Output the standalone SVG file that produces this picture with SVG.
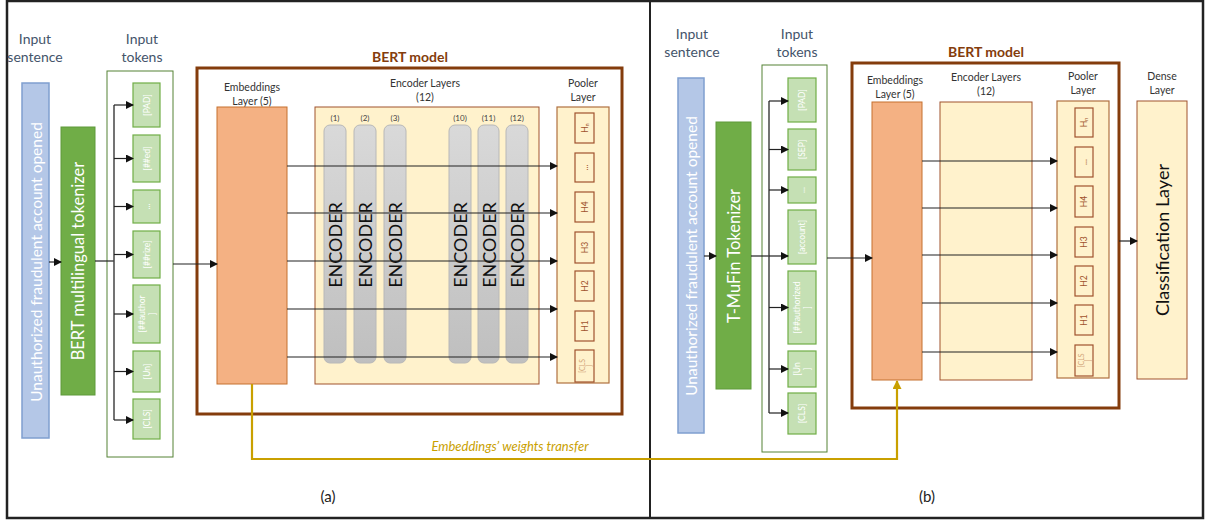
<svg xmlns="http://www.w3.org/2000/svg" width="1209" height="520" viewBox="0 0 1209 520">
<style>
text{font-family:Lato,"Open Sans","Liberation Sans",sans-serif}
.hdr{font-size:14px;fill:#44546A;text-anchor:middle}
.lbl{font-size:10.5px;fill:#333;text-anchor:middle}
.bert{font-size:14px;font-weight:bold;fill:#843C0C;text-anchor:middle}
.sent{fill:#B4C7E7;stroke:#7F9FCF;stroke-width:1.5}
.sentt{font-size:15.5px;fill:#fff;text-anchor:middle;dominant-baseline:central}
.tok{fill:#70AD47;stroke:#5E9A3A;stroke-width:1}
.tokt{font-size:16.5px;fill:#fff;text-anchor:middle;dominant-baseline:central}
.tbox{fill:#fff;stroke:#548235;stroke-width:1}
.tk{fill:#C5E0B4;stroke:#70AD47;stroke-width:1.2}
.tkt{font-size:8.5px;fill:#fff;text-anchor:middle;dominant-baseline:central}
.bbox{fill:none;stroke:#843C0C;stroke-width:3}
.emb{fill:#F4B183;stroke:#C5702F;stroke-width:1}
.enc{fill:#FFF2CC;stroke:#A0522D;stroke-width:1}
.bar{fill:url(#g);stroke:#B8B8B8;stroke-width:1}
.bart{font-size:18px;fill:#111;text-anchor:middle;dominant-baseline:central}
.num{font-size:8px;fill:#444;text-anchor:middle}
.pool{fill:#FFF2CC;stroke:#B0703F;stroke-width:1.2}
.h{fill:#FFF2CC;stroke:#A0522D;stroke-width:1.2}
.ht{font-size:8.5px;fill:#A0522D;text-anchor:middle;dominant-baseline:central}
.htl{font-size:7px;fill:#D2A679;text-anchor:middle;dominant-baseline:central}
.ln{stroke:#222;stroke-width:1.2;fill:none}
.lg{stroke:#444;stroke-width:1.5;fill:none}
.gold{stroke:#C9A000;stroke-width:2.2;fill:none}
.cap{font-size:15px;fill:#222;text-anchor:middle}
</style>
<defs>
<linearGradient id="g" x1="0" y1="0" x2="0" y2="1">
<stop offset="0" stop-color="#D9D9D9"/>
<stop offset="1" stop-color="#BFBFBF"/>
</linearGradient>
<marker id="ar" markerWidth="8" markerHeight="8" refX="7" refY="4" orient="auto" markerUnits="userSpaceOnUse">
<path d="M0,0 L8,4 L0,8 Z" fill="#111"/>
</marker>
<marker id="arg" markerWidth="9" markerHeight="9" refX="8" refY="4.5" orient="auto" markerUnits="userSpaceOnUse">
<path d="M0,0 L9,4.5 L0,9 Z" fill="#C9A000"/>
</marker>
</defs>
<rect x="0" y="0" width="1209" height="520" fill="#fff"/>
<g id="frame">
<rect x="7" y="1" width="1196" height="517" fill="none" stroke="#222" stroke-width="2.5"/>
<line x1="650" y1="1" x2="650" y2="518" stroke="#222" stroke-width="2"/>
</g>

<!-- LEFT PANEL -->
<g id="a-sentence">
<text class="hdr" x="35" y="44">Input</text>
<text class="hdr" x="35" y="62">sentence</text>
<rect class="sent" x="22" y="83" width="27" height="355"/>
<text class="sentt" transform="translate(35.5,262) rotate(-90)">Unauthorized fraudulent account opened</text>
</g>
<g id="a-tokenizer">
<rect class="tok" x="61" y="127" width="34" height="268"/>
<text class="tokt" transform="translate(78,261) rotate(-90)">BERT multilingual tokenizer</text>
</g>
<g id="a-tokens">
<text class="hdr" x="142" y="44">Input</text>
<text class="hdr" x="142" y="62">tokens</text>
<rect class="tbox" x="107" y="71" width="66" height="386"/>
<rect class="tk" x="133" y="83" width="27" height="44"/>
<text class="tkt" transform="translate(146.5,105) rotate(-90)">[PAD]</text>
<rect class="tk" x="133" y="135" width="27" height="47"/>
<text class="tkt" transform="translate(146.5,158.5) rotate(-90)">[##ed]</text>
<rect class="tk" x="133" y="190" width="27" height="33"/>
<text class="tkt" transform="translate(146.5,206.5) rotate(-90)">...</text>
<rect class="tk" x="133" y="231" width="27" height="47"/>
<text class="tkt" transform="translate(146.5,254.5) rotate(-90)">[##rize]</text>
<rect class="tk" x="133" y="285" width="27" height="58"/>
<text class="tkt" transform="translate(146.5,314) rotate(-90)"><tspan x="0" dy="-5">[##author</tspan><tspan x="0" dy="10">]</tspan></text>
<rect class="tk" x="133" y="351" width="27" height="41"/>
<text class="tkt" transform="translate(146.5,371.5) rotate(-90)">[Un]</text>
<rect class="tk" x="133" y="399" width="27" height="40"/>
<text class="tkt" transform="translate(146.5,419) rotate(-90)">[CLS]</text>
</g>
<g id="a-bert">
<text class="bert" x="410" y="62">BERT model</text>
<rect class="bbox" x="197" y="68" width="425" height="346"/>
</g>
<g id="a-embeddings">
<text class="lbl" x="252" y="91">Embeddings</text>
<text class="lbl" x="252" y="105">Layer (5)</text>
<rect class="emb" x="217" y="107" width="70" height="277"/>
</g>
<g id="a-encoders">
<text class="lbl" x="425" y="87">Encoder Layers</text>
<text class="lbl" x="425" y="101">(12)</text>
<rect class="enc" x="315" y="107" width="224" height="277"/>
<text class="num" x="335" y="121">(1)</text>
<text class="num" x="365" y="121">(2)</text>
<text class="num" x="395" y="121">(3)</text>
<text class="num" x="460" y="121">(10)</text>
<text class="num" x="488.5" y="121">(11)</text>
<text class="num" x="517" y="121">(12)</text>
<rect class="bar" x="324" y="125" width="22" height="238" rx="6"/>
<rect class="bar" x="354" y="125" width="22" height="238" rx="6"/>
<rect class="bar" x="384" y="125" width="22" height="238" rx="6"/>
<rect class="bar" x="449" y="125" width="22" height="238" rx="6"/>
<rect class="bar" x="478" y="125" width="21" height="238" rx="6"/>
<rect class="bar" x="506" y="125" width="22" height="238" rx="6"/>
<text class="bart" transform="translate(335,245) rotate(-90)">ENCODER</text>
<text class="bart" transform="translate(365,245) rotate(-90)">ENCODER</text>
<text class="bart" transform="translate(395,245) rotate(-90)">ENCODER</text>
<text class="bart" transform="translate(460,245) rotate(-90)">ENCODER</text>
<text class="bart" transform="translate(488.5,245) rotate(-90)">ENCODER</text>
<text class="bart" transform="translate(517,245) rotate(-90)">ENCODER</text>
</g>
<g id="a-pooler">
<text class="lbl" x="583" y="87">Pooler</text>
<text class="lbl" x="583" y="101">Layer</text>
<rect class="pool" x="557" y="107" width="52" height="276"/>
<rect class="h" x="575" y="113" width="19" height="30"/>
<text class="ht" transform="translate(584.5,128) rotate(-90)">H<tspan font-size="5" dy="2">n</tspan></text>
<rect class="h" x="575" y="153" width="19" height="29"/>
<text class="ht" transform="translate(584.5,167.5) rotate(-90)">...</text>
<rect class="h" x="575" y="192" width="19" height="30"/>
<text class="ht" transform="translate(584.5,207) rotate(-90)">H4</text>
<rect class="h" x="575" y="232" width="19" height="31"/>
<text class="ht" transform="translate(584.5,247.5) rotate(-90)">H3</text>
<rect class="h" x="575" y="271" width="19" height="30"/>
<text class="ht" transform="translate(584.5,286) rotate(-90)">H2</text>
<rect class="h" x="575" y="311" width="19" height="30"/>
<text class="ht" transform="translate(584.5,326) rotate(-90)">H1</text>
<rect class="h" x="575" y="350" width="19" height="32"/>
<text class="htl" transform="translate(584.5,366) rotate(-90)"><tspan x="0" dy="-3">[CLS</tspan><tspan x="0" dy="7">]</tspan></text>
</g>
<text class="cap" x="328" y="502">(a)</text>

<!-- RIGHT PANEL -->
<g id="b-sentence">
<text class="hdr" x="692" y="39">Input</text>
<text class="hdr" x="692" y="57">sentence</text>
<rect class="sent" x="678" y="78" width="26" height="355"/>
<text class="sentt" transform="translate(691,256) rotate(-90)">Unauthorized fraudulent account opened</text>
</g>
<g id="b-tokenizer">
<rect class="tok" x="716" y="122" width="35" height="267"/>
<text class="tokt" transform="translate(733.5,256) rotate(-90)">T-MuFin Tokenizer</text>
</g>
<g id="b-tokens">
<text class="hdr" x="797" y="39">Input</text>
<text class="hdr" x="797" y="57">tokens</text>
<rect class="tbox" x="762" y="65" width="65" height="387"/>
<rect class="tk" x="788" y="78" width="28" height="44"/>
<text class="tkt" transform="translate(802,100) rotate(-90)">[PAD]</text>
<rect class="tk" x="788" y="129" width="28" height="41"/>
<text class="tkt" transform="translate(802,149.5) rotate(-90)">[SEP]</text>
<rect class="tk" x="788" y="177" width="28" height="26"/>
<text class="tkt" transform="translate(802,190) rotate(-90)">...</text>
<rect class="tk" x="788" y="210" width="28" height="54"/>
<text class="tkt" transform="translate(802,237) rotate(-90)">[account]</text>
<rect class="tk" x="788" y="271" width="28" height="73"/>
<text class="tkt" transform="translate(802,307.5) rotate(-90)"><tspan x="0" dy="-5">[##authorized</tspan><tspan x="0" dy="10">]</tspan></text>
<rect class="tk" x="788" y="351" width="28" height="36"/>
<text class="tkt" transform="translate(802,369) rotate(-90)"><tspan x="0" dy="-5">[Un</tspan><tspan x="0" dy="10">]</tspan></text>
<rect class="tk" x="788" y="393" width="28" height="41"/>
<text class="tkt" transform="translate(802,413.5) rotate(-90)">[CLS]</text>
</g>
<g id="b-bert">
<text class="bert" x="986" y="57">BERT model</text>
<rect class="bbox" x="852" y="63" width="267" height="345"/>
</g>
<g id="b-embeddings">
<text class="lbl" x="895" y="84">Embeddings</text>
<text class="lbl" x="895" y="98">Layer (5)</text>
<rect class="emb" x="872" y="102" width="50" height="278"/>
</g>
<g id="b-encoders">
<text class="lbl" x="986" y="81">Encoder Layers</text>
<text class="lbl" x="986" y="95">(12)</text>
<rect class="enc" x="940" y="102" width="92" height="278"/>
</g>
<g id="b-pooler">
<text class="lbl" x="1083" y="80">Pooler</text>
<text class="lbl" x="1083" y="94">Layer</text>
<rect class="pool" x="1057" y="101" width="52" height="277"/>
<rect class="h" x="1075" y="108" width="18" height="29"/>
<text class="ht" transform="translate(1084,122.5) rotate(-90)">H<tspan font-size="5" dy="2">n</tspan></text>
<rect class="h" x="1075" y="147" width="18" height="30"/>
<text class="ht" transform="translate(1084,162) rotate(-90)">...</text>
<rect class="h" x="1075" y="186" width="18" height="31"/>
<text class="ht" transform="translate(1084,201.5) rotate(-90)">H4</text>
<rect class="h" x="1075" y="227" width="18" height="30"/>
<text class="ht" transform="translate(1084,242) rotate(-90)">H3</text>
<rect class="h" x="1075" y="266" width="18" height="30"/>
<text class="ht" transform="translate(1084,281) rotate(-90)">H2</text>
<rect class="h" x="1075" y="305" width="18" height="30"/>
<text class="ht" transform="translate(1084,320) rotate(-90)">H1</text>
<rect class="h" x="1075" y="345" width="18" height="31"/>
<text class="htl" transform="translate(1084,360.5) rotate(-90)"><tspan x="0" dy="-3">[CLS</tspan><tspan x="0" dy="7">]</tspan></text>
</g>
<g id="b-dense">
<text class="lbl" x="1162" y="80">Dense</text>
<text class="lbl" x="1162" y="94">Layer</text>
<rect class="enc" x="1137" y="101" width="50" height="278"/>
<text class="bart" transform="translate(1162,240) rotate(-90)">Classification Layer</text>
</g>
<text class="cap" x="927" y="502">(b)</text>

<!-- CONNECTORS -->
<g id="connectors">
<line class="ln" x1="49" y1="262" x2="61" y2="262" marker-end="url(#ar)"/>
<line class="ln" x1="95" y1="261" x2="114" y2="261"/>
<path class="lg" d="M114,105 V420"/>
<line class="ln" x1="114" y1="105" x2="133" y2="105" marker-end="url(#ar)"/>
<line class="ln" x1="114" y1="158.5" x2="133" y2="158.5" marker-end="url(#ar)"/>
<line class="ln" x1="114" y1="206.5" x2="133" y2="206.5" marker-end="url(#ar)"/>
<line class="ln" x1="114" y1="254.5" x2="133" y2="254.5" marker-end="url(#ar)"/>
<line class="ln" x1="114" y1="314" x2="133" y2="314" marker-end="url(#ar)"/>
<line class="ln" x1="114" y1="371.5" x2="133" y2="371.5" marker-end="url(#ar)"/>
<line class="ln" x1="114" y1="420" x2="133" y2="420" marker-end="url(#ar)"/>
<line class="ln" x1="173" y1="264" x2="217" y2="264" marker-end="url(#ar)"/>
<line class="ln" x1="287" y1="166" x2="557" y2="166" marker-end="url(#ar)"/>
<line class="ln" x1="287" y1="213" x2="557" y2="213" marker-end="url(#ar)"/>
<line class="ln" x1="287" y1="261" x2="557" y2="261" marker-end="url(#ar)"/>
<line class="ln" x1="287" y1="309" x2="557" y2="309" marker-end="url(#ar)"/>
<line class="ln" x1="287" y1="357" x2="557" y2="357" marker-end="url(#ar)"/>

<line class="ln" x1="704" y1="256" x2="716" y2="256" marker-end="url(#ar)"/>
<line class="ln" x1="751" y1="256" x2="769" y2="256"/>
<path class="lg" d="M769,101 V413"/>
<line class="ln" x1="769" y1="101" x2="788" y2="101" marker-end="url(#ar)"/>
<line class="ln" x1="769" y1="149.5" x2="788" y2="149.5" marker-end="url(#ar)"/>
<line class="ln" x1="769" y1="190" x2="788" y2="190" marker-end="url(#ar)"/>
<line class="ln" x1="769" y1="256" x2="788" y2="256" marker-end="url(#ar)"/>
<line class="ln" x1="769" y1="307.5" x2="788" y2="307.5" marker-end="url(#ar)"/>
<line class="ln" x1="769" y1="369" x2="788" y2="369" marker-end="url(#ar)"/>
<line class="ln" x1="769" y1="413" x2="788" y2="413" marker-end="url(#ar)"/>
<line class="ln" x1="827" y1="258" x2="872" y2="258" marker-end="url(#ar)"/>
<line class="ln" x1="922" y1="161" x2="1057" y2="161" marker-end="url(#ar)"/>
<line class="ln" x1="922" y1="208" x2="1057" y2="208" marker-end="url(#ar)"/>
<line class="ln" x1="922" y1="255" x2="1057" y2="255" marker-end="url(#ar)"/>
<line class="ln" x1="922" y1="303" x2="1057" y2="303" marker-end="url(#ar)"/>
<line class="ln" x1="922" y1="352" x2="1057" y2="352" marker-end="url(#ar)"/>
<line class="ln" x1="1119" y1="241" x2="1137" y2="241" marker-end="url(#ar)"/>

<path class="gold" d="M252,384 V459 H897 V381" marker-end="url(#arg)"/>
<text x="510" y="451" font-size="13" font-style="italic" fill="#C9A000" text-anchor="middle">Embeddings’ weights transfer</text>
</g>
</svg>
